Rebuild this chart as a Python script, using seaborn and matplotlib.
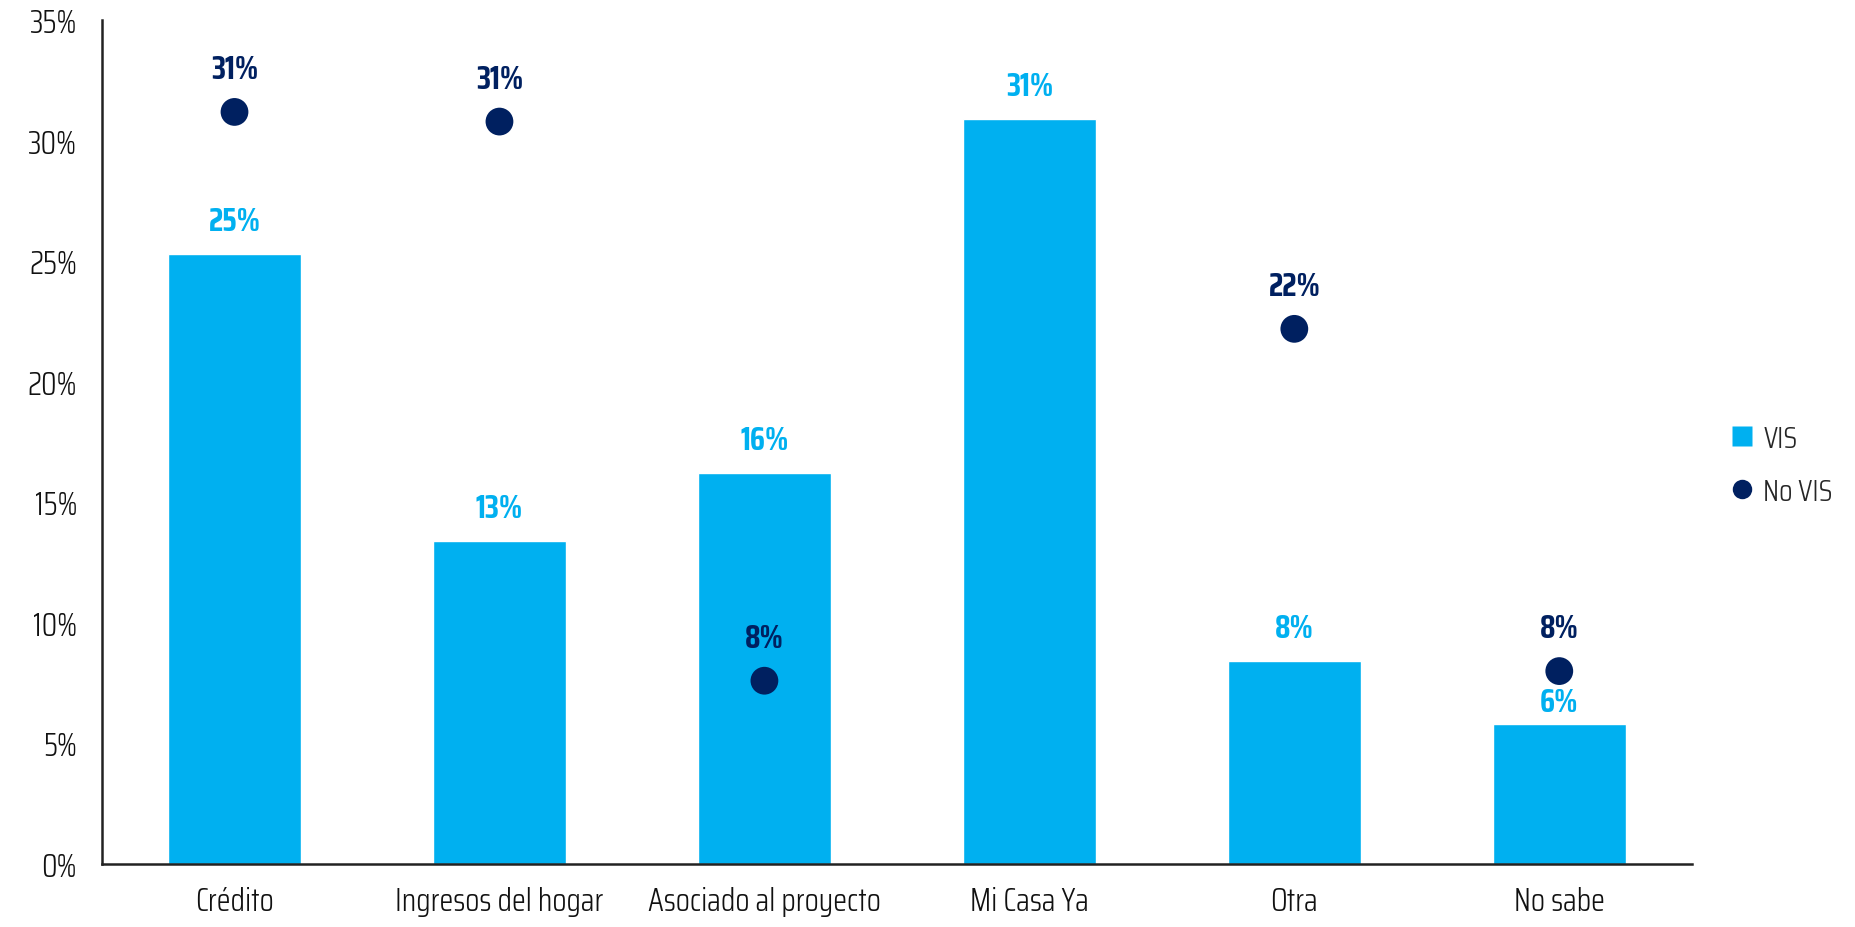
import matplotlib.pyplot as plt
import seaborn as sns
import numpy as np
import pandas as pd
from matplotlib.lines import Line2D

# Data
categorias = ['Crédito', 'Ingresos del hogar', 'Asociado al proyecto', 'Mi Casa Ya', 'Otra', 'No sabe']
vis = [25.3, 13.4, 16.2, 30.9, 8.4, 5.8]
no_vis = [31.2, 30.8, 7.6, np.nan, 22.2, 8.0]

color_vis = '#00B0F0'
color_novis = '#002060'

df = pd.DataFrame({'Categoria': categorias, 'VIS': vis, 'No VIS': no_vis})

sns.set_style('white')
plt.rcParams['font.family'] = ['Saira Condensed', 'DejaVu Sans']

fig = plt.figure(figsize=(18.55, 9.28), dpi=100)
ax = fig.add_axes([0.055, 0.068, 0.857, 0.909])

sns.barplot(data=df, x='Categoria', y='VIS', color=color_vis, width=0.5,
            saturation=1, ax=ax)
sns.scatterplot(data=df, x='Categoria', y='No VIS', color=color_novis, s=400,
                edgecolor='none', ax=ax, zorder=3)

# Value labels (the last VIS label sits closer to its bar to clear the dot)
for i, v in enumerate(vis):
    off = 5 if i == len(vis) - 1 else 13
    ax.annotate(f'{v:.0f}%', (i, v), xytext=(0, off), textcoords='offset points',
                ha='center', va='bottom', fontsize=23, fontweight='bold', color=color_vis)
for i, v in enumerate(no_vis):
    if not np.isnan(v):
        ax.annotate(f'{v:.0f}%', (i, v), xytext=(0, 20), textcoords='offset points',
                    ha='center', va='bottom', fontsize=23, fontweight='bold', color=color_novis)

ax.set_xlim(-0.5, 5.5)
ax.set_ylim(0, 35)
ax.set_yticks(np.arange(0, 36, 5))
ax.set_yticklabels([f'{t}%' for t in range(0, 36, 5)])
ax.set_xlabel('')
ax.set_ylabel('')
ax.tick_params(axis='both', length=0, labelsize=23, colors='#111111')
ax.tick_params(axis='x', pad=16)
ax.tick_params(axis='y', pad=18)
for lab in ax.get_xticklabels() + ax.get_yticklabels():
    lab.set_fontweight(300)

for s in ['top', 'right']:
    ax.spines[s].set_visible(False)
for s in ['left', 'bottom']:
    ax.spines[s].set_color('#222222')
    ax.spines[s].set_linewidth(1.8)

handles = [
    Line2D([0], [0], marker='s', color='none', markerfacecolor=color_vis,
           markeredgecolor='none', markersize=14, label='VIS'),
    Line2D([0], [0], marker='o', color='none', markerfacecolor=color_novis,
           markeredgecolor='none', markersize=14, label='No VIS'),
]
leg = fig.legend(handles=handles, loc='center left', bbox_to_anchor=(0.916, 0.498),
                 frameon=False, fontsize=22, handletextpad=0.2, labelspacing=0.8,
                 handlelength=1.0)
for t in leg.get_texts():
    t.set_fontweight(300)

fig.savefig('out.png', dpi=100)
